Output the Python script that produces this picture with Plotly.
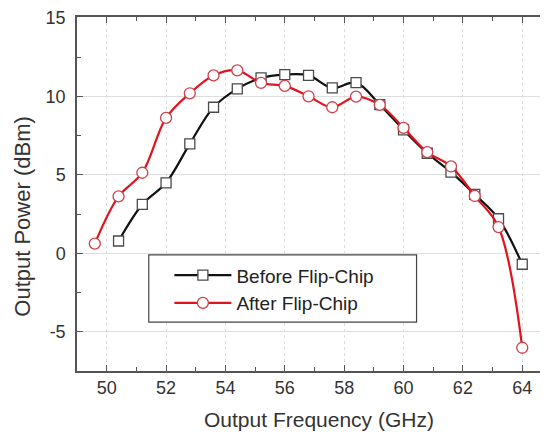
import plotly.graph_objects as go

freq_before = [50.4, 51.2, 52.0, 52.8, 53.6, 54.4, 55.2, 56.0, 56.8, 57.6, 58.4,
               59.2, 60.0, 60.8, 61.6, 62.4, 63.2, 64.0]
power_before = [0.78, 3.11, 4.49, 6.97, 9.30, 10.47, 11.17, 11.38, 11.33, 10.53,
                10.87, 9.47, 7.86, 6.37, 5.17, 3.75, 2.2, -0.7]

freq_after = [49.6, 50.4, 51.2, 52.0, 52.8, 53.6, 54.4, 55.2, 56.0, 56.8, 57.6,
              58.4, 59.2, 60.0, 60.8, 61.6, 62.4, 63.2, 64.0]
power_after = [0.61, 3.62, 5.13, 8.62, 10.19, 11.33, 11.65, 10.85, 10.66, 10.0,
               9.30, 9.98, 9.45, 7.99, 6.44, 5.53, 3.65, 1.67, -6.02]

x_ticks = [50, 52, 54, 56, 58, 60, 62, 64]
y_ticks = [-5, 0, 5, 10, 15]
y_tick_labels = ["-5", "0", "5", "10", "15"]

FONT = "Liberation Sans, Arial, sans-serif"

fig = go.Figure()
fig.add_trace(go.Scatter(
    x=freq_before, y=power_before, mode="lines+markers", name="Before Flip-Chip",
    line=dict(color="#111111", width=2.2, shape="spline", smoothing=1.0),
    marker=dict(symbol="square", size=10, color="white",
                line=dict(color="#4a4a4a", width=1.3)),
))
fig.add_trace(go.Scatter(
    x=freq_after, y=power_after, mode="lines+markers", name="After Flip-Chip",
    line=dict(color="#e0141e", width=2.2, shape="spline", smoothing=1.0),
    marker=dict(symbol="circle", size=11, color="white",
                line=dict(color="#d0404a", width=1.3)),
))

axis_common = dict(
    showline=True, linecolor="#555555", linewidth=1.5, mirror="allticks",
    ticks="inside", ticklen=6, tickwidth=1.2, tickcolor="#555555",
    tickfont=dict(family=FONT, size=18, color="#333333"),
    zeroline=False, showgrid=True, gridcolor="#dddddd", gridwidth=1,
)

fig.update_xaxes(
    range=[49, 64.8], tickvals=x_ticks, griddash="dot",
    minor=dict(dtick=1, tick0=49, ticks="inside", ticklen=4, tickcolor="#555555",
               showgrid=False),
    **axis_common,
)
fig.update_yaxes(
    range=[-7.5, 15.05], tickvals=y_ticks, ticktext=y_tick_labels,
    ticklabelstandoff=6, ticklabeloverflow="allow",
    minor=dict(dtick=2.5, tick0=0, ticks="inside", ticklen=4, tickcolor="#555555",
               showgrid=False),
    **axis_common,
)

# legend frame
fig.add_shape(type="rect", xref="paper", yref="paper",
              x0=0.153, x1=0.724, y0=0.138, y1=0.328,
              fillcolor="white", line=dict(color="#444444", width=1.2),
              layer="above")

fig.add_annotation(text="Output Frequency (GHz)", xref="paper", yref="paper",
                   x=0.515, y=-0.138, xanchor="center", yanchor="middle",
                   showarrow=False,
                   font=dict(family=FONT, size=21, color="#333333"))
fig.add_annotation(text="Output Power (dBm)", xref="paper", yref="paper",
                   x=-0.115, y=0.436, xanchor="center", yanchor="middle",
                   textangle=-90, showarrow=False,
                   font=dict(family=FONT, size=22, color="#333333"))

fig.update_layout(
    width=540, height=425,
    margin=dict(l=69, r=0, t=9, b=62),
    paper_bgcolor="white", plot_bgcolor="white",
    showlegend=True,
    legend=dict(x=0.197, y=0.324, xanchor="left", yanchor="top",
                bgcolor="rgba(0,0,0,0)", borderwidth=0,
                font=dict(family=FONT, size=19, color="#222222"),
                itemwidth=57, tracegroupgap=0),
)

fig.write_html("out.html")
